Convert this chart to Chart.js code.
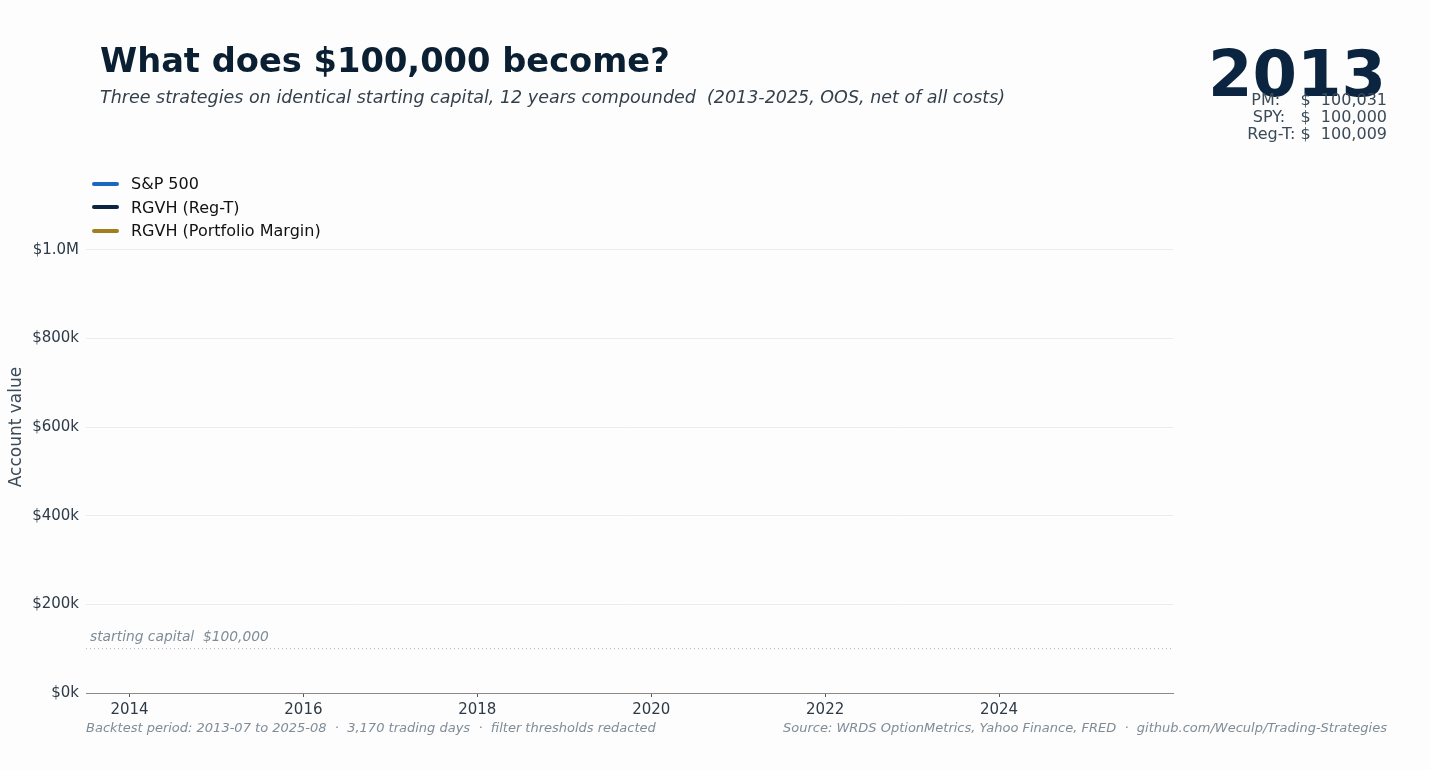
<!DOCTYPE html>
<html>
<head>
<meta charset="utf-8">
<script src="https://cdn.jsdelivr.net/npm/chart.js@4/dist/chart.umd.min.js"></script>
<style>
  html, body { margin: 0; padding: 0; background: #fdfdfd; }
  body { width: 1430px; height: 770px; position: relative; overflow: hidden; font-family: "DejaVu Sans", sans-serif; }
  #wrap { position: absolute; left: 0; top: 0; width: 1430px; height: 770px; }
  .abs { position: absolute; white-space: pre; }
  #title { left: 100px; top: 41px; font-size: 33.7px; font-weight: bold; color: #0b1f33; }
  #sub { left: 100px; top: 87px; font-size: 17.5px; font-style: italic; color: #333f4b; }
  #year { right: 44px; top: 42px; font-size: 64px; font-weight: bold; color: #0b2540; line-height: 1; }
  #vals { right: 43px; top: 91px; font-size: 16px; color: #3b4a58; text-align: right; line-height: 17px; }
  #legend { left: 92px; top: 172px; font-size: 16px; color: #111; }
  .li { height: 23.5px; display: flex; align-items: center; }
  .sw { width: 27px; height: 4px; border-radius: 2px; margin-right: 12px; }
  .foot { top: 720px; font-size: 13px; font-style: italic; color: #7f8c97; }
</style>
</head>
<body>
<div id="wrap"><canvas id="myChart" width="1430" height="770"></canvas></div>
<div class="abs" id="title">What does $100,000 become?</div>
<div class="abs" id="sub">Three strategies on identical starting capital, 12 years compounded  (2013-2025, OOS, net of all costs)</div>
<div class="abs" id="year">2013</div>
<div class="abs" id="vals">PM:    $  100,031
SPY:   $  100,000
Reg-T: $  100,009</div>
<div class="abs" id="legend"></div>
<div class="abs foot" style="left:86px">Backtest period: 2013-07 to 2025-08  ·  3,170 trading days  ·  filter thresholds redacted</div>
<div class="abs foot" style="right:43px">Source: WRDS OptionMetrics, Yahoo Finance, FRED  ·  github.com/Weculp/Trading-Strategies</div>
<script>
// first frame of the animation: only the 2013-07 starting point exists
var years = [2013.5];
var spyValues = [100000];
var regtValues = [100009];
var pmValues = [100031];
var startCapital = 100000;
var xTicks = [2014, 2016, 2018, 2020, 2022, 2024];
var yTicks = [0, 200000, 400000, 600000, 800000, 1000000];

var seriesNames = ['S&P 500', 'RGVH (Reg-T)', 'RGVH (Portfolio Margin)'];
var seriesColors = ['#1a66c0', '#0b2540', '#a0801e'];

function pts(vals) {
    return vals.map(function(v, i){ return {x: years[i], y: v}; });
}

// html legend
var legendDiv = document.getElementById('legend');
seriesNames.forEach(function(name, i){
    var row = document.createElement('div');
    row.className = 'li';
    row.innerHTML = '<span class="sw" style="background:' + seriesColors[i] + '"></span>';
    row.appendChild(document.createTextNode(name));
    legendDiv.appendChild(row);
});

var startLabel = {
    id: 'startLabel',
    afterDatasetsDraw: function(chart){
        var c = chart.ctx;
        var y = chart.scales.y.getPixelForValue(startCapital);
        c.save();
        c.font = 'italic 13.8px "DejaVu Sans"';
        c.fillStyle = '#7f8c97';
        c.textBaseline = 'bottom';
        c.fillText('starting capital  $100,000', chart.chartArea.left + 4, y - 4);
        c.restore();
    }
};

var ctx = document.getElementById('myChart');
var myChart = new Chart(ctx, {
    type: 'line',
    data: {
        datasets: [
            { label: 'start', data: [{x: 2013.5, y: startCapital}, {x: 2026, y: startCapital}],
              borderColor: '#a9b2ba', borderWidth: 1, borderDash: [1, 3], pointRadius: 0 },
            { label: seriesNames[0], data: pts(spyValues), borderColor: seriesColors[0], borderWidth: 2.5, pointRadius: 0 },
            { label: seriesNames[1], data: pts(regtValues), borderColor: seriesColors[1], borderWidth: 2.5, pointRadius: 0 },
            { label: seriesNames[2], data: pts(pmValues), borderColor: seriesColors[2], borderWidth: 2.5, pointRadius: 0 }
        ]
    },
    options: {
        responsive: false,
        animation: false,
        layout: { padding: { top: 161, right: 257, left: 0, bottom: 0 } },
        plugins: { legend: { display: false }, tooltip: { enabled: false } },
        scales: {
            x: {
                type: 'linear',
                min: 2013.5,
                max: 2026,
                afterBuildTicks: function(axis){ axis.ticks = xTicks.map(function(v){ return {value: v}; }); },
                afterFit: function(axis){ axis.height = 77; },
                ticks: {
                    color: '#2d3b48',
                    font: { family: 'DejaVu Sans', size: 15 },
                    padding: 4,
                    callback: function(v){ return String(v); }
                },
                grid: { drawOnChartArea: false, drawTicks: true, tickLength: 4, color: '#555' },
                border: { display: true, color: '#8a8a8a', width: 1 }
            },
            y: {
                min: 0,
                max: 1200000,
                afterBuildTicks: function(axis){ axis.ticks = yTicks.map(function(v){ return {value: v}; }); },
                afterFit: function(axis){ axis.width = 86; },
                ticks: {
                    color: '#2d3b48',
                    font: { family: 'DejaVu Sans', size: 15 },
                    padding: 7,
                    callback: function(v){
                        if (v >= 1000000) return '$' + (v / 1000000).toFixed(1) + 'M';
                        return '$' + (v / 1000) + 'k';
                    }
                },
                title: {
                    display: true,
                    text: 'Account value',
                    color: '#3b4a58',
                    font: { family: 'DejaVu Sans', size: 17 },
                    padding: { top: 6, bottom: 0 }
                },
                grid: { color: '#ececec', drawTicks: false },
                border: { display: false }
            }
        }
    },
    plugins: [startLabel]
});
</script>
</body>
</html>
